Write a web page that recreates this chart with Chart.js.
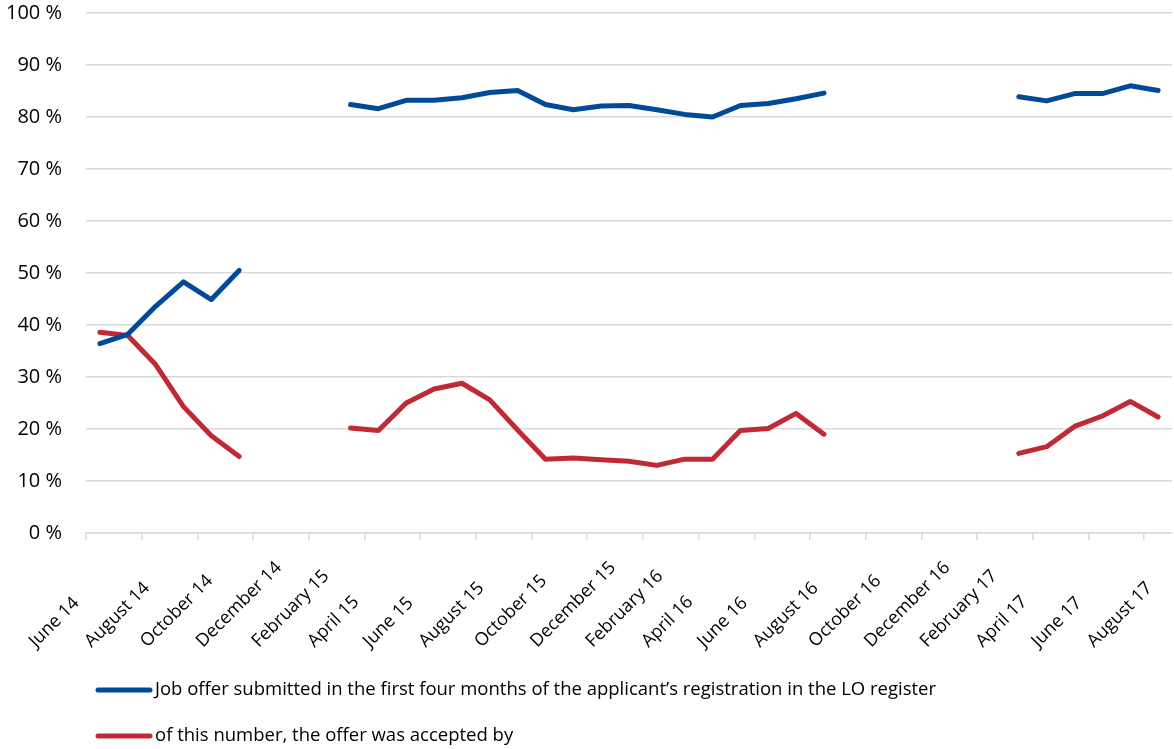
<!DOCTYPE html>
<html>
<head>
<meta charset="utf-8">
<title>Job offers in the first four months</title>
<script src="https://cdn.jsdelivr.net/npm/chart.js@4.4.1/dist/chart.umd.min.js"></script>
<style>
  body { margin: 0; background: #fff; }
  canvas { display: block; }
</style>
</head>
<body>
<canvas id="offerChart" width="1174" height="749"></canvas>
<script>
const months = [
    'June 14', 'July 14', 'August 14', 'September 14', 'October 14', 'November 14', 'December 14',
    'January 15', 'February 15', 'March 15', 'April 15', 'May 15', 'June 15', 'July 15',
    'August 15', 'September 15', 'October 15', 'November 15', 'December 15',
    'January 16', 'February 16', 'March 16', 'April 16', 'May 16', 'June 16', 'July 16',
    'August 16', 'September 16', 'October 16', 'November 16', 'December 16',
    'January 17', 'February 17', 'March 17', 'April 17', 'May 17', 'June 17', 'July 17', 'August 17'
];

// share of applicants (%), null = month not reported
const offerSubmitted = [
    36.4, 38.2, 43.6, 48.3, 44.9, 50.5, null, null, null,
    82.4, 81.6, 83.2, 83.2, 83.7, 84.7, 85.1, 82.4, 81.4, 82.1, 82.2, 81.4, 80.5, 80.0,
    82.2, 82.6, 83.5, 84.6,
    null, null, null, null, null, null,
    83.9, 83.1, 84.5, 84.5, 86.0, 85.1
];
const offerAccepted = [
    38.6, 38.0, 32.4, 24.3, 18.7, 14.7, null, null, null,
    20.2, 19.7, 25.0, 27.7, 28.8, 25.6, 19.8, 14.2, 14.4, 14.1, 13.8, 13.0, 14.2, 14.2,
    19.7, 20.1, 23.0, 19.0,
    null, null, null, null, null, null,
    15.3, 16.6, 20.5, 22.5, 25.3, 22.3
];

const seriesNames = [
    'Job offer submitted in the first four months of the applicant\u2019s registration in the LO register',
    'of this number, the offer was accepted by'
];
const seriesColors = ['#004a98', '#c02a35'];
const yTicks = [0, 10, 20, 30, 40, 50, 60, 70, 80, 90, 100];

const FONT = '"Open Sans", "DejaVu Sans", sans-serif';
const GRID = '#d9d9d9';

// every second month gets a slanted label, anchored at its lower-left end
const monthLabels = {
    id: 'monthLabels',
    afterDraw(chart) {
        const { ctx } = chart;
        const x = chart.scales.x;
        ctx.save();
        ctx.font = `18px ${FONT}`;
        ctx.fillStyle = '#000';
        ctx.textAlign = 'left';
        ctx.textBaseline = 'alphabetic';
        months.forEach((m, i) => {
            if (i % 2) return;
            ctx.save();
            ctx.translate(x.getPixelForTick(i) - 64, x.top + 115);
            ctx.rotate(-Math.PI / 4);
            ctx.fillText(m, 0, 0);
            ctx.restore();
        });
        ctx.restore();
    }
};

// legend: one row per series, short line sample then the text
const lineLegend = {
    id: 'lineLegend',
    afterDraw(chart) {
        const { ctx } = chart;
        ctx.save();
        ctx.font = `18.5px ${FONT}`;
        ctx.textAlign = 'left';
        ctx.textBaseline = 'middle';
        chart.data.datasets.forEach((ds, i) => {
            const y = 690 + i * 46;
            ctx.strokeStyle = ds.borderColor;
            ctx.lineWidth = 5;
            ctx.lineCap = 'round';
            ctx.beginPath();
            ctx.moveTo(98, y);
            ctx.lineTo(150, y);
            ctx.stroke();
            ctx.fillStyle = '#000';
            ctx.fillText(ds.label, 155, y);
        });
        ctx.restore();
    }
};

const makeSeries = (label, data, color) => ({
    label,
    data,
    borderColor: color,
    backgroundColor: color,
    borderWidth: 5,
    borderCapStyle: 'round',
    borderJoinStyle: 'round',
    pointRadius: 0,
    tension: 0,
    spanGaps: false
});

const ctx = document.getElementById('offerChart').getContext('2d');
const offerChart = new Chart(ctx, {
    type: 'line',
    data: {
        labels: months,
        datasets: [
            makeSeries(seriesNames[0], offerSubmitted, seriesColors[0]),
            makeSeries(seriesNames[1], offerAccepted, seriesColors[1])
        ]
    },
    options: {
        responsive: false,
        animation: false,
        devicePixelRatio: 1,
        layout: { padding: { top: 13, right: 2, bottom: 0, left: 0 } },
        plugins: {
            legend: { display: false },
            tooltip: { enabled: false }
        },
        scales: {
            x: {
                offset: true,
                grid: {
                    offset: true,
                    drawOnChartArea: false,
                    drawTicks: true,
                    tickLength: 7,
                    lineWidth: 1.5,
                    color: c => (c.index !== undefined && c.index % 2 === 0 ? GRID : 'rgba(0,0,0,0)')
                },
                border: { display: true, color: GRID, width: 1.5 },
                ticks: { display: false },
                afterFit: scale => {
                    scale.height = 749 - 533;
                    scale.paddingLeft = 0;
                    scale.paddingRight = 0;
                }
            },
            y: {
                min: 0,
                max: 100,
                afterBuildTicks: scale => { scale.ticks = yTicks.map(v => ({ value: v })); },
                grid: { color: GRID, lineWidth: 1.5, drawTicks: false },
                border: { display: false },
                ticks: {
                    padding: 24,
                    color: '#000',
                    font: { family: FONT, size: 20 },
                    callback: v => `${v} %`
                },
                afterFit: scale => {
                    scale.width = 86;
                    scale.paddingTop = 0;
                    scale.paddingBottom = 0;
                }
            }
        }
    },
    plugins: [monthLabels, lineLegend]
});
</script>
</body>
</html>
